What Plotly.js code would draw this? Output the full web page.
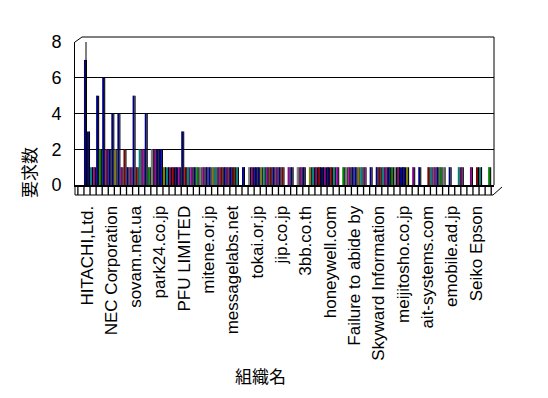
<!DOCTYPE html>
<html>
<head>
<meta charset="utf-8">
<script src="https://cdn.plot.ly/plotly-3.0.1.min.js"></script>
<style>html,body{margin:0;padding:0;background:#fff;}#chart{width:548px;height:398px;}</style>
</head>
<body>
<div id="chart"></div>
<script>
// Tick labels (every 4th organisation is labelled on the axis)
var tickLabels = ["HITACHI,Ltd.","NEC Corporation","sovam.net.ua","park24.co.jp","PFU LIMITED",
  "mitene.or.jp","messagelabs.net","tokai.or.jp","jip.co.jp","3bb.co.th","honeywell.com",
  "Failure to abide by","Skyward Information","meijitosho.co.jp","ait-systems.com","emobile.ad.jp","Seiko Epson"];

// Request counts per organisation (two series per organisation)
var seriesA = [7,1,5,6,2,2,1,1,5,2,4,2,2,1,1,1,3,1,1,1,1,1,1,1,1,1,1,1,1,1,1,1,1,0,1,1,1,1,1,1,1,1,0,1,1,1,1,1,1,1,1,1,1,1,1,1,0,1,1,1,1,0,1,0,0,1,0];
var seriesB = [3,1,2,2,4,4,2,1,1,2,1,2,2,1,1,1,1,1,1,1,1,1,1,1,1,0,0,1,1,1,1,1,1,1,0,1,0,1,1,1,1,1,1,1,1,1,0,0,1,1,1,1,1,0,0,0,1,1,1,0,0,1,0,1,1,0,1];

var idx = seriesA.map(function(_, i){ return i; });
var tickVals = tickLabels.map(function(_, i){ return i * 4; });

var palette = ['#000080','#800080','#008080','#800000','#000080','#990099','#808080','#008000',
               '#000080','#800080','#808000','#0000a0','#800080','#008080','#000080','#800000'];
function colorsFor(vals, s){
  return vals.map(function(v, i){ return v > 2 ? '#000080' : palette[(2*i + s*3) % palette.length]; });
}

var traces = [
  {type:'bar', x: idx, y: seriesA, offset:-0.5, width:0.32, marker:{color: colorsFor(seriesA,0), line:{width:0}}, hoverinfo:'skip'},
  {type:'bar', x: idx, y: seriesA, offset:-0.18, width:0.18, marker:{color:'#000000', line:{width:0}}, hoverinfo:'skip'},
  {type:'bar', x: idx, y: seriesB, offset:0.0, width:0.32, marker:{color: colorsFor(seriesB,1), line:{width:0}}, hoverinfo:'skip'},
  {type:'bar', x: idx, y: seriesB, offset:0.32, width:0.18, marker:{color:'#000000', line:{width:0}}, hoverinfo:'skip'}
];

function px(x){ return (x - 75) / 419; }
function py(y){ return (185 - y) / 143; }
function ln(){ return {color:'#000000', width:1}; }
var xr = [-1.974, 66.96];

var shapes = [
  {type:'line', xref:'paper', yref:'paper', x0:0, y0:py(195), x1:px(493), y1:py(195), line:ln()},
  {type:'line', xref:'paper', yref:'paper', x0:0, y0:0, x1:0, y1:py(195), line:ln()},
  {type:'line', xref:'paper', yref:'paper', x0:px(493), y0:py(195), x1:px(502), y1:py(187), line:ln()},
  {type:'line', xref:'paper', yref:'paper', x0:0, y0:1, x1:px(82), y1:py(37), line:ln()},
  {type:'line', xref:'paper', yref:'paper', x0:px(82), y0:py(37), x1:1, y1:py(37), line:ln()},
  {type:'line', xref:'paper', yref:'paper', x0:px(86), y0:0, x1:px(86), y1:1, line:ln()},
  {type:'line', xref:'paper', yref:'paper', x0:1, y0:0, x1:1, y1:py(37), line:ln()}
];
// floor tick marks at category boundaries (decoration of the floor band)
for (var k = -2; k <= 67; k++) {
  var b = k + 0.5;
  if (b <= xr[0] || b >= xr[1]) continue;
  var fx = (b - xr[0]) / (xr[1] - xr[0]);
  shapes.push({type:'line', xref:'paper', yref:'paper', x0:fx, x1:fx, y0:-0.008, y1:-0.07, line:{color:'#000000', width:1.3}});
}

var layout = {
  width: 548, height: 398,
  margin: {l:75, r:54, t:42, b:213, pad:0},
  paper_bgcolor:'#ffffff', plot_bgcolor:'#ffffff',
  showlegend:false,
  barmode:'overlay',
  font:{family:'Liberation Sans, Arial, sans-serif', color:'#000000'},
  xaxis:{
    type:'linear', range:xr, fixedrange:true,
    tickmode:'array', tickvals: tickVals, ticktext: tickLabels,
    tickangle:-90, ticks:'', showgrid:false, zeroline:false,
    ticklabelstandoff:12,
    tickfont:{size:17, color:'#000000'},
    showline:true, linecolor:'#000000', linewidth:2
  },
  yaxis:{
    range:[0,8], fixedrange:true,
    tickmode:'array', tickvals:[0,2,4,6,8], ticktext:['0','2','4','6','8'],
    ticks:'', showgrid:true, gridcolor:'#000000', gridwidth:1, zeroline:false,
    showline:true, linecolor:'#000000', linewidth:1,
    ticklabelstandoff:9,
    tickfont:{size:18, color:'#000000'}
  },
  shapes: shapes,
  annotations:[
    {text:'要求数', xref:'paper', yref:'paper', x:px(28), y:py(173), textangle:-90, showarrow:false,
     xanchor:'center', yanchor:'middle', font:{family:'Noto Sans CJK JP, sans-serif', size:17, color:'#000000'}},
    {text:'組織名', xref:'paper', yref:'paper', x:px(260), y:py(375), showarrow:false,
     xanchor:'center', yanchor:'middle', font:{family:'Noto Sans CJK JP, sans-serif', size:17, color:'#000000'}}
  ]
};

Plotly.newPlot('chart', traces, layout, {staticPlot:true, displayModeBar:false});
</script>
</body>
</html>
